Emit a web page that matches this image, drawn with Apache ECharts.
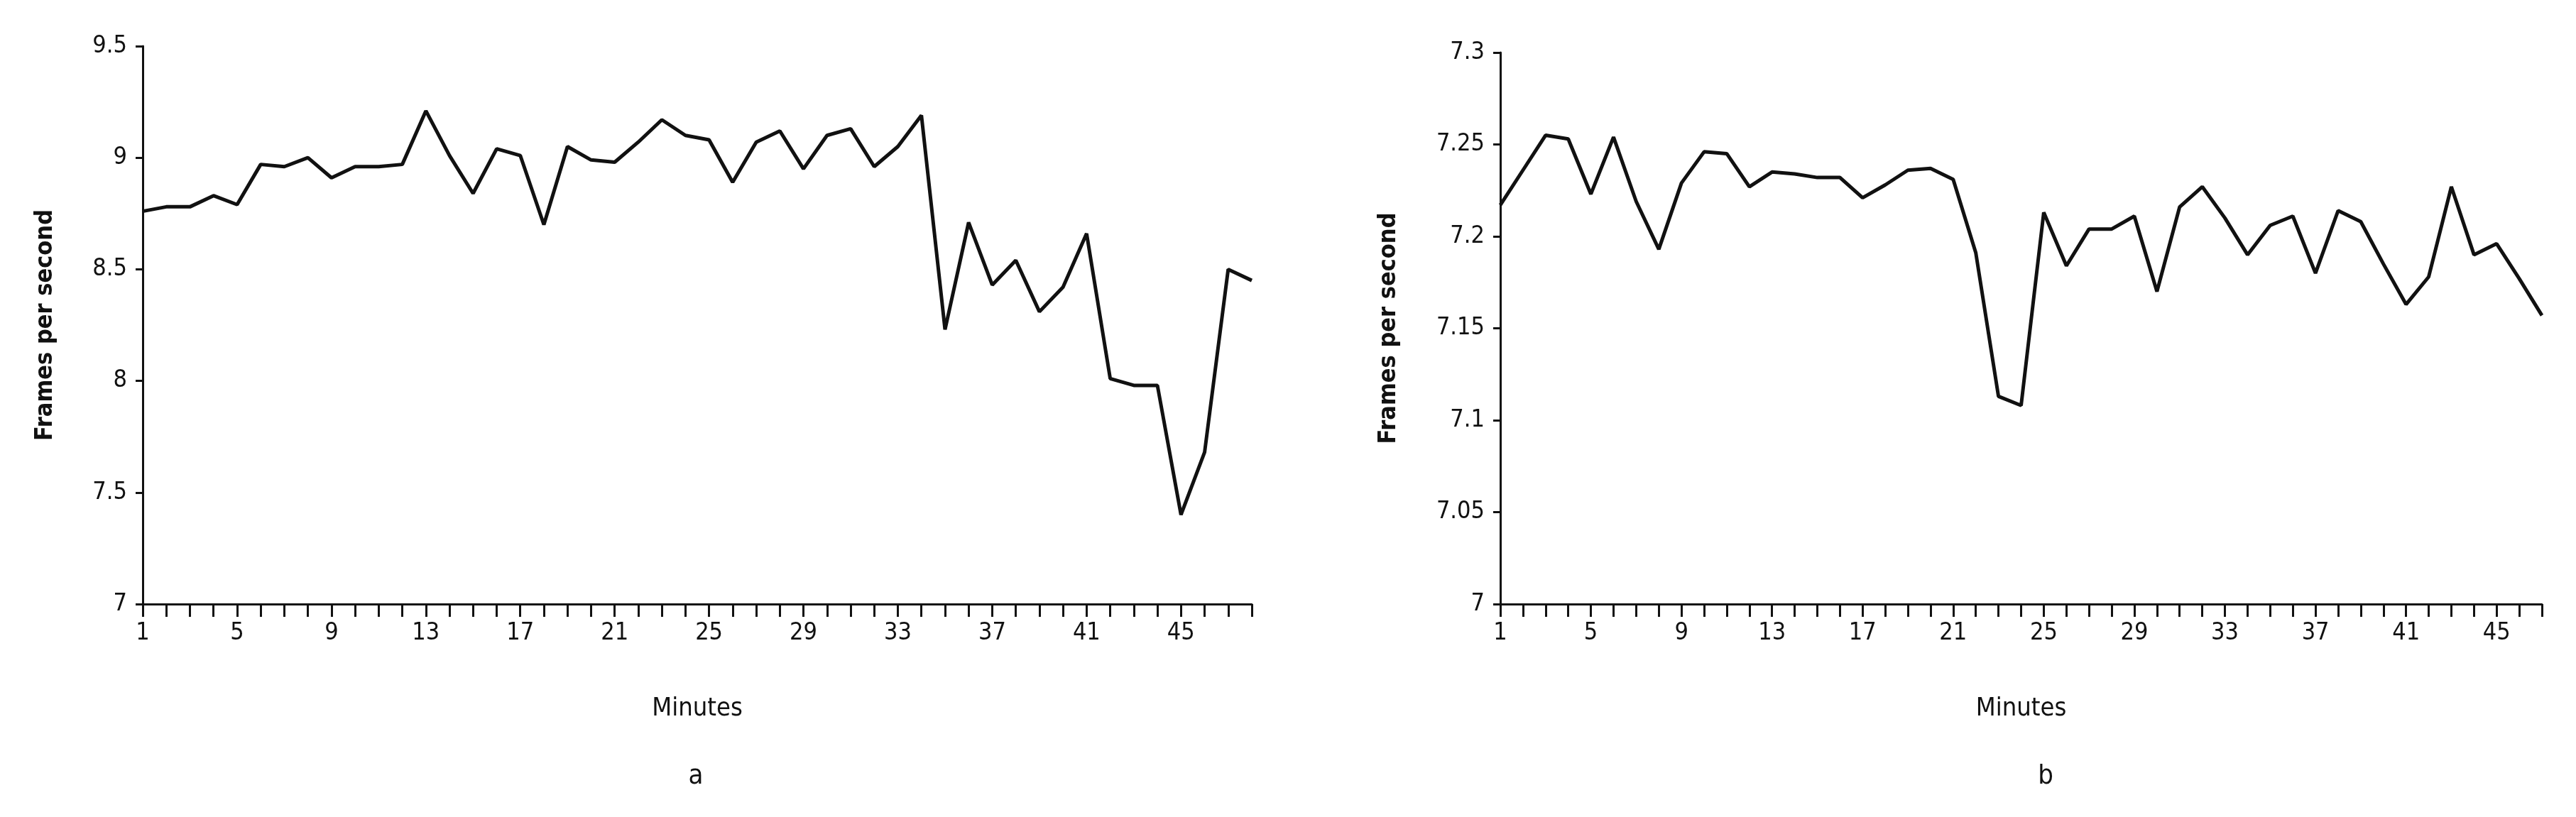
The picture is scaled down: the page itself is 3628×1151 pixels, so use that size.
<!DOCTYPE html>
<html>
<head>
<meta charset="utf-8">
<script src="https://cdn.jsdelivr.net/npm/echarts@6/dist/echarts.min.js"></script>
<style>html,body{margin:0;padding:0;background:#fff}#main{width:3628px;height:1151px}</style>
</head>
<body>
<div id="main"></div>
<script>
// minutes
var minutesA = [];
for (var i = 1; i <= 48; i++) minutesA.push(String(i));
var minutesB = [];
for (var i = 1; i <= 47; i++) minutesB.push(String(i));

// frames per second, panel a
var fpsA = [8.76, 8.78, 8.78, 8.83, 8.79, 8.97, 8.96, 9.00, 8.91, 8.96, 8.96, 8.97,
    9.21, 9.01, 8.84, 9.04, 9.01, 8.70, 9.05, 8.99, 8.98, 9.07, 9.17, 9.10,
    9.08, 8.89, 9.07, 9.12, 8.95, 9.10, 9.13, 8.96, 9.05, 9.19, 8.23, 8.71,
    8.43, 8.54, 8.31, 8.42, 8.66, 8.01, 7.98, 7.98, 7.40, 7.68, 8.50, 8.45];
// frames per second, panel b
var fpsB = [7.217, 7.236, 7.255, 7.253, 7.223, 7.254, 7.219, 7.193, 7.229, 7.246, 7.245, 7.227,
    7.235, 7.234, 7.232, 7.232, 7.221, 7.228, 7.236, 7.237, 7.231, 7.191, 7.113, 7.108,
    7.213, 7.184, 7.204, 7.204, 7.211, 7.170, 7.216, 7.227, 7.210, 7.190, 7.206, 7.211,
    7.180, 7.214, 7.208, 7.185, 7.163, 7.178, 7.227, 7.190, 7.196, 7.177, 7.157];

var font = 'DejaVu Sans Condensed';
var txt = { color: '#111', fontFamily: font, fontSize: 34 };

function xAxis(idx, cats) {
    return {
        type: 'category', gridIndex: idx, data: cats, boundaryGap: false,
        axisLine: { lineStyle: { color: '#111', width: 3 } },
        axisTick: { show: true, interval: 0, inside: false, length: 18, lineStyle: { color: '#111', width: 3 } },
        axisLabel: Object.assign({ interval: 3, margin: 24 }, txt),
        name: 'Minutes', nameLocation: 'middle', nameGap: 130,
        nameTextStyle: { color: '#111', fontFamily: font, fontSize: 36 }
    };
}
function yAxis(idx, min, max, step, gap) {
    return {
        type: 'value', gridIndex: idx, min: min, max: max, interval: step,
        axisLine: { show: true, lineStyle: { color: '#111', width: 3 } },
        axisTick: { show: true, length: 10, lineStyle: { color: '#111', width: 3 } },
        splitLine: { show: false },
        axisLabel: Object.assign({ margin: 22 }, txt),
        name: 'Frames per second', nameLocation: 'middle', nameGap: gap,
        nameTextStyle: { color: '#111', fontFamily: font, fontSize: 34, fontWeight: 'bold' }
    };
}

var chart = echarts.init(document.getElementById('main'));
chart.setOption({
    backgroundColor: '#fff',
    animation: false,
    title: [
        { text: 'a', left: 975, top: 1070, textAlign: 'center', textStyle: { color: '#111', fontFamily: font, fontSize: 38, fontWeight: 'normal' } },
        { text: 'b', left: 2876, top: 1070, textAlign: 'center', textStyle: { color: '#111', fontFamily: font, fontSize: 38, fontWeight: 'normal' } }
    ],
    grid: [
        { left: 201, top: 65, width: 1562, height: 786 },
        { left: 2113, top: 74, width: 1467, height: 777 }
    ],
    xAxis: [xAxis(0, minutesA), xAxis(1, minutesB)],
    yAxis: [yAxis(0, 7, 9.5, 0.5, 120), yAxis(1, 7, 7.3, 0.05, 140)],
    series: [
        { type: 'line', xAxisIndex: 0, yAxisIndex: 0, data: fpsA, showSymbol: false, lineStyle: { color: '#111', width: 5 } },
        { type: 'line', xAxisIndex: 1, yAxisIndex: 1, data: fpsB, showSymbol: false, lineStyle: { color: '#111', width: 5 } }
    ]
});
</script>
</body>
</html>
